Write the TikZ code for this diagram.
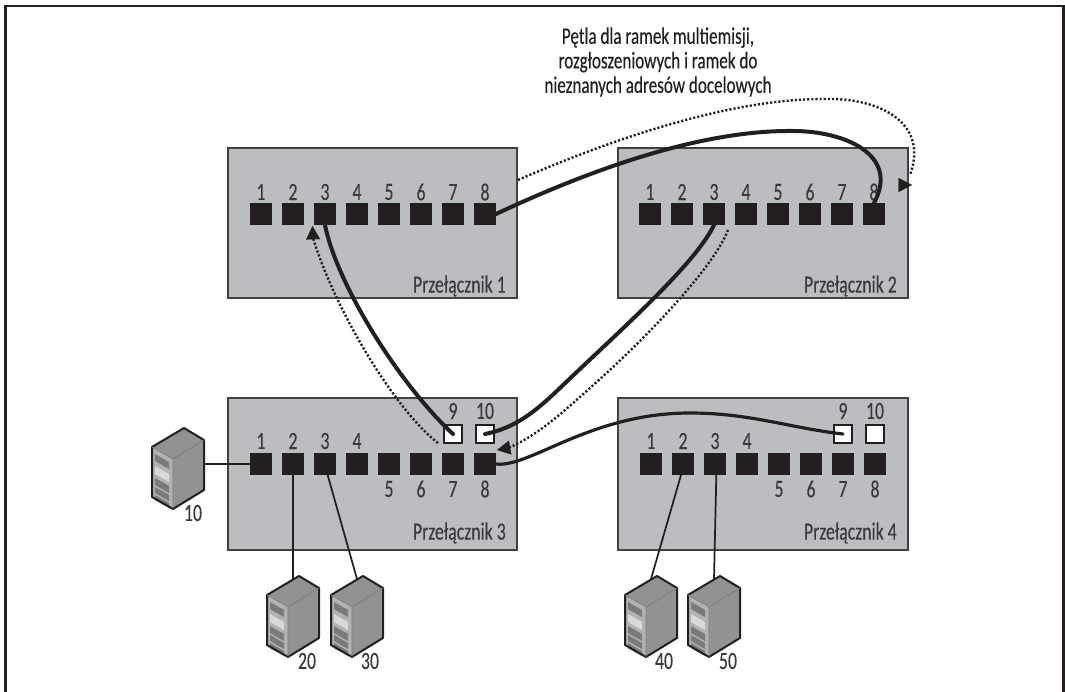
\documentclass[tikz,border=0pt]{standalone}
\usepackage{fontspec}
\setmainfont[FakeStretch=0.72,FakeBold=0.25]{Carlito}
\usetikzlibrary{arrows.meta}
\definecolor{ink}{HTML}{231F20}
\definecolor{boxgrey}{HTML}{BCBDC0}
\definecolor{txt}{HTML}{3A3A3C}
\tikzset{
  x=0.75pt,y=-0.75pt,
  swbox/.style={draw=ink!85,line width=1.5pt,fill=boxgrey},
  port/.style={fill=ink,minimum size=16.5pt,inner sep=0pt,outer sep=0pt},
  wport/.style={fill=white,draw=ink,line width=1.5pt,minimum size=14pt,inner sep=0pt,outer sep=0pt},
  lab/.style={font=\fontsize{18.5}{20}\selectfont,text=txt,inner sep=0pt},
  captext/.style={font=\fontsize{17.8}{18.4}\selectfont,text=ink,inner sep=0pt,align=center},
  thickline/.style={draw=ink,line width=3pt,line cap=round},
  midline/.style={draw=ink,line width=2.4pt,line cap=round},
  thinline/.style={draw=ink,line width=1.3pt},
  dotline/.style={draw=ink,line width=1.8pt,dash pattern=on 1.6pt off 1.5pt},
  tipline/.style={draw=ink,line width=.1pt,-{Triangle[length=10pt,width=10.5pt,fill=ink]}},
  pics/srv/.style={code={
    \fill[gray!78!black!70] (0,0)--(20,12)--(-11,31)--(-32,19)--cycle;
    \fill[gray!70!ink!70] (20,12)--(20,62)--(-11,81)--(-11,31)--cycle;
    \fill[gray!60] (-32,19)--(-11,31)--(-11,81)--(-32,69)--cycle;
    \foreach \a/\b/\c in {26/33/ink!60,38/46/white!70!gray,50/57/ink!60,59/65/ink!60,67/72/ink!60}
      \fill[\c] (-29,\a)--(-15,{\a+8})--(-15,{\b+8})--(-29,\b)--cycle;
    \draw[ink,line width=1.5pt,line join=round] (0,0)--(20,12)--(20,62)--(-11,81)--(-32,69)--(-32,19)--cycle;
    \draw[ink!60,line width=.5pt] (-32,19)--(-11,31)--(20,12) (-11,31)--(-11,81);
    \coordinate (-r) at (20,36);
    \coordinate (-w) at (-6,3);
  }},
}
\newcommand{\portrow}[4]{% prefix, x0, y of row, switch kind (t=all above, b=split)
  \foreach \n in {1,...,8}{
    \pgfmathsetmacro{\px}{#2+32*(\n-1)}
    \node[port] (#1\n) at (\px,#3) {};
    \if#4t
      \node[lab] (#1\n l) at (\px,#3-22) {\n};
    \else
      \ifnum\n<5
        \node[lab] (#1\n l) at (\px,#3-23) {\n};
      \else
        \node[lab] (#1\n l) at (\px,#3+25) {\n};
      \fi
    \fi
  }}
\begin{document}
\begin{tikzpicture}
\useasboundingbox (0,0) rectangle (1065,692);
\draw[ink,line width=1.9pt] (5.5,692) -- (5.5,6) -- (1063.5,6) -- (1063.5,692);

\node[swbox,minimum width=217pt,minimum height=112pt,inner sep=0pt,outer sep=0pt] (sw1) at (372.5,223) {};
\node[swbox,minimum width=217pt,minimum height=112pt,inner sep=0pt,outer sep=0pt] (sw2) at (763,223) {};
\node[swbox,minimum width=217pt,minimum height=113.5pt,inner sep=0pt,outer sep=0pt] (sw3) at (372.5,474) {};
\node[swbox,minimum width=217pt,minimum height=113.5pt,inner sep=0pt,outer sep=0pt] (sw4) at (763,474) {};

\portrow{a}{261}{214}{t}
\portrow{b}{650}{214}{t}
\portrow{c}{261}{464}{b}
\portrow{d}{651}{464}{b}

\node[wport] (c9) at (453,434) {};
\node[wport] (c10) at (485,434) {};
\node[wport] (d9) at (843,434) {};
\node[wport] (d10) at (875,434) {};
\node[lab] (c9l) at (453,411) {9};
\node[lab] (c10l) at (485,411) {10};
\node[lab] (d9l) at (843,411) {9};
\node[lab] (d10l) at (875,411) {10};

\node[lab,anchor=east] (n1) at (506,286) {Przełącznik 1};
\node[lab,anchor=east] (n2) at (897,286) {Przełącznik 2};
\node[lab,anchor=east] (n3) at (506,533) {Przełącznik 3};
\node[lab,anchor=east] (n4) at (897,533) {Przełącznik 4};

\node[captext] (caption) at (658,62) {Pętla dla ramek multiemisji,\\rozgłoszeniowych i ramek do\\nieznanych adresów docelowych};

\pic (s10) at (184,428) {srv};
\pic (s20) at (299,576) {srv};
\pic (s30) at (363,576) {srv};
\pic (s40) at (657,576) {srv};
\pic (s50) at (720,576) {srv};
\node[lab] (s10l) at (193,513) {10};
\node[lab] (s20l) at (307,661) {20};
\node[lab] (s30l) at (370,661) {30};
\node[lab] (s40l) at (664,661) {40};
\node[lab] (s50l) at (728,661) {50};

% host links
\draw[thinline] (s10-r) -- (c1);
\draw[thinline] (c2.south) -- (s20-w);
\draw[thinline] ([xshift=2pt]c3.south) -- (s30-w);
\draw[thinline] ([xshift=-1.5pt]d2.south) -- (s40-w);
\draw[thinline] ([xshift=1pt]d3.south) -- (s50-w);

% trunk links
\draw[thickline] (a8.east) .. controls (590,170) and (700,130) .. (793,131) .. controls (845,131) and (900,155) .. (b8.north);
\draw[thickline] (b3.south) .. controls (695,265) and (615,335) .. (560,388) .. controls (535,412) and (515,428) .. (c10.center);
\draw[thickline] (a3.south) .. controls (337,285) and (400,385) .. (c9.center);
\draw[midline] (c8.east) .. controls (530,468) and (590,413) .. (690,413) .. controls (750,413) and (790,428) .. (d9.center);

% dotted flood path
\coordinate (e0) at (518,180);
\coordinate (e1) at (910,175);
\coordinate (tipE0) at (899,185);
\coordinate (tipE1) at (912,185);
\draw[dotline] (e0) .. controls (610,140) and (730,98) .. (827,99) .. controls (875,98) and (930,120) .. (e1);
\draw[tipline] (tipE0) -- (tipE1);

\coordinate (f0) at (728,230);
\coordinate (f1) at (508,448);
\coordinate (f2) at (497,450);
\draw[dotline] (f0) .. controls (715,265) and (650,335) .. (590,388) .. controls (560,415) and (535,437) .. (f1);
\draw[tipline] (f1) -- (f2);

\coordinate (g0) at (438,443);
\coordinate (g1) at (313,238);
\coordinate (g2) at (312.5,226);
\draw[dotline] (g0) .. controls (395,410) and (335,310) .. (g1);
\draw[tipline] (g1) -- (g2);
\end{tikzpicture}
\end{document}
